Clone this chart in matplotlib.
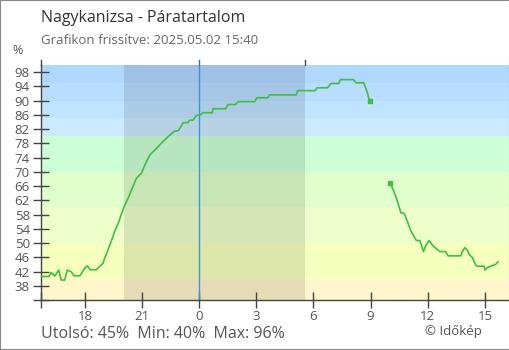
import numpy as np
import matplotlib
matplotlib.use("Agg")
import matplotlib.pyplot as plt
from matplotlib.patches import Rectangle

plt.rcParams['font.family'] = ['Open Sans', 'DejaVu Sans']

# idő órában éjféltől (előző nap negatív), páratartalom %
ora = [-8.25, -7.88, -7.76, -7.58, -7.37, -7.24, -7.06, -6.92, -6.71, -6.57,
       -6.26, -6.01, -5.87, -5.72, -5.40, -5.05, -4.96, -4.79, -4.62, -4.41,
       -4.25, -4.07, -3.94, -3.73, -3.55, -3.29, -3.03, -2.85, -2.59, -2.24,
       -1.90, -1.54, -1.28, -1.11, -0.93, -0.85, -0.59, -0.50, -0.32, -0.15,
       0.06, 0.20, 0.69, 0.72, 1.39, 1.51, 1.91, 2.03, 2.91, 3.03,
       3.60, 3.69, 5.09, 5.17, 6.10, 6.18, 6.74, 6.92, 7.32, 7.42,
       8.10, 8.23, 8.63, 8.75, 8.84, 8.89, 8.98,
       9.5,
       10.04, 10.15, 10.29, 10.41, 10.53, 10.59, 10.76, 10.93, 11.11, 11.28,
       11.40, 11.58, 11.69, 11.77, 11.90, 12.07, 12.24, 12.42, 12.63, 12.94,
       13.06, 13.73, 13.81, 13.94, 14.07, 14.20, 14.33, 14.51, 14.60, 14.95,
       15.00, 15.12, 15.30, 15.56, 15.68]
para = [40.6, 40.6, 41.7, 40.7, 42.4, 39.6, 39.6, 42.4, 41.9, 40.8,
        40.8, 42.9, 43.6, 42.5, 42.5, 44.3, 45.7, 48.0, 50.4, 53.6,
        55.5, 58.3, 60.2, 62.6, 64.9, 68.2, 69.6, 71.9, 74.7, 76.6,
        78.5, 80.3, 81.5, 81.5, 82.9, 83.8, 83.8, 84.5, 84.5, 85.8,
        86.0, 86.6, 86.6, 87.7, 87.7, 88.9, 88.9, 89.7, 89.7, 90.8,
        90.8, 91.6, 91.6, 92.8, 92.8, 93.6, 93.6, 94.8, 94.8, 95.9,
        95.9, 95.0, 95.0, 93.4, 92.0, 90.8, 89.9,
        np.nan,
        66.8, 65.4, 63.5, 61.6, 59.5, 58.5, 58.3, 56.0, 53.4, 51.8,
        50.7, 50.7, 49.0, 47.6, 49.4, 50.7, 49.4, 48.5, 47.6, 47.6,
        46.4, 46.4, 47.6, 48.7, 48.0, 46.6, 46.0, 43.8, 43.5, 43.5,
        42.4, 43.1, 43.5, 44.0, 44.7]

# színsávok (alsó, felső, szín)
sav_also = [34, 40, 50, 60, 70, 80, 85, 90, 95]
sav_felso = [40, 50, 60, 70, 80, 85, 90, 95, 100]
sav_szin = ['#fff6cc', '#f5ffbe', '#eeffcc', '#dfffcc', '#ccffd6',
            '#cceaff', '#c0e4ff', '#b8ddff', '#b0d8ff']

y_ticks = [38, 42, 46, 50, 54, 58, 62, 66, 70, 74, 78, 82, 86, 90, 94, 98]
x_ticks = [-6, -3, 0, 3, 6, 9, 12, 15]
x_labels = ['18', '21', '0', '3', '6', '9', '12', '15']

napnyugta = -3.95
napkelte = 5.58
x_min, x_max = -8.30, 16.26

W, H = 510, 350
fig = plt.figure(figsize=(W / 100, H / 100), dpi=100)
ax = fig.add_axes([41 / W, 50 / H, (509 - 41) / W, 235 / H])

for a, f, c in zip(sav_also, sav_felso, sav_szin):
    ax.axhspan(a, f, color=c, lw=0, zorder=0)
ax.axvspan(napnyugta, napkelte, color='black', alpha=0.1, lw=0, zorder=1)
ax.axvline(0, color='#3a96d8', lw=1, zorder=2)

ax.plot(ora, para, color='#3fbf3f', lw=1.2, zorder=3)
# szakadás két vége
ax.plot([8.98, 10.04], [89.9, 66.8], ls='none', marker='s', ms=2.5,
        color='#3fbf3f', zorder=3)

ax.set_xlim(x_min, x_max)
ax.set_ylim(34, 100)

ax.set_yticks([34] + y_ticks)
ax.set_yticklabels([''] + [str(v) for v in y_ticks])
ax.set_xticks([x_min] + x_ticks)
ax.set_xticklabels([''] + x_labels)

for s in ['top', 'right']:
    ax.spines[s].set_visible(False)
for s in ['left', 'bottom']:
    ax.spines[s].set_color('#444444')
    ax.spines[s].set_linewidth(1)
ax.tick_params(axis='both', direction='inout', length=12, width=1,
               color='#444444', labelcolor='#555555', labelsize=9.5)
ax.tick_params(axis='y', pad=2)
ax.tick_params(axis='x', pad=1)

# tengely meghosszabbítások
ax.plot([x_min, x_min], [100, 101.4], color='#444444', lw=1, clip_on=False)
ax.plot([0, 0], [100, 101.4], color='#3a6f9a', lw=1, clip_on=False)
ax.plot([napkelte, napkelte], [100, 101.4], color='#444444', lw=1, clip_on=False)

fig.text(41 / W, 1 - 18 / H, 'Nagykanizsa - Páratartalom', fontsize=11.5,
         color='#333333', va='center', ha='left')
fig.text(41 / W, 1 - 41 / H, 'Grafikon frissítve: 2025.05.02 15:40', fontsize=9.5,
         color='#666666', va='center', ha='left')
fig.text(18 / W, 1 - 51 / H, '%', fontsize=9, color='#555555', va='center', ha='center')
fig.text(41 / W, 1 - 334 / H, 'Utolsó: 45%  Min: 40%  Max: 96%', fontsize=11.5,
         color='#555555', va='center', ha='left')
fig.text(482 / W, 1 - 331 / H, '© Időkép', fontsize=9.5, color='#555555',
         va='center', ha='right')

fig.patches.append(Rectangle((0, 0), 1, 1, transform=fig.transFigure,
                             fill=False, edgecolor='#888888', lw=1.5))

fig.savefig('out.png', dpi=100)
